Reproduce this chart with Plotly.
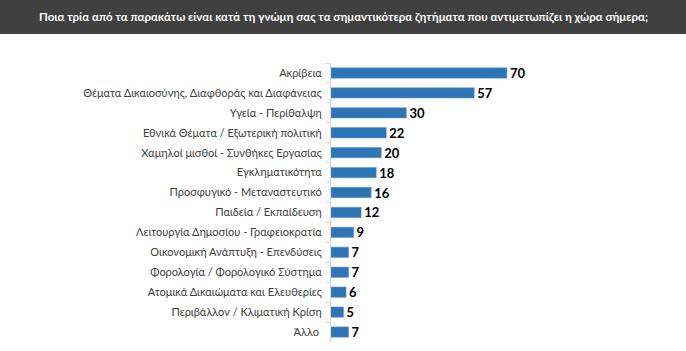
import plotly.graph_objects as go

categories = ["Ακρίβεια", "Θέματα Δικαιοσύνης, Διαφθοράς και Διαφάνειας", "Υγεία - Περίθαλψη",
              "Εθνικά Θέματα / Εξωτερική πολιτική", "Χαμηλοί μισθοί - Συνθήκες Εργασίας",
              "Εγκληματικότητα", "Προσφυγικό - Μεταναστευτικό", "Παιδεία / Εκπαίδευση",
              "Λειτουργία Δημοσίου - Γραφειοκρατία", "Οικονομική Ανάπτυξη - Επενδύσεις",
              "Φορολογία / Φορολογικό Σύστημα", "Ατομικά Δικαιώματα και Ελευθερίες",
              "Περιβάλλον / Κλιματική Κρίση", "Άλλο "]
values = [70, 57, 30, 22, 20, 18, 16, 12, 9, 7, 7, 6, 5, 7]
title = "Ποια τρία από τα παρακάτω είναι κατά τη γνώμη σας τα σημαντικότερα ζητήματα που αντιμετωπίζει η χώρα σήμερα;"

W, H = 686, 351
ml, mr, mt, mb = 331, 154, 63, 9
pw = W - ml - mr
ph = H - mt - mb

fig = go.Figure(go.Bar(
    y=categories, x=values, orientation="h",
    marker=dict(color="#2E75B6", line=dict(color="#5B9BD5", width=0.5)),
    width=0.52,
    text=[str(v) for v in values], textposition="outside", constraintext="none",
    textfont=dict(family="Lato, DejaVu Sans, sans-serif", size=13, color="#000000", weight="bold"),
    cliponaxis=False,
))

fig.update_layout(
    width=W, height=H, margin=dict(l=ml, r=mr, t=mt, b=mb),
    paper_bgcolor="white", plot_bgcolor="white", showlegend=False,
    bargap=0.48,
    xaxis=dict(range=[0, 80], visible=False),
    yaxis=dict(autorange="reversed", type="category", showline=True, linecolor="#D9D9D9", linewidth=1,
               ticks="outside", ticklen=4, tickcolor="#D9D9D9", tickson="boundaries",
               showgrid=False, ticklabelstandoff=6,
               tickfont=dict(family="Lato, DejaVu Sans, sans-serif", size=11, color="#404040")),
    shapes=[dict(type="rect", xref="paper", yref="paper",
                 x0=-ml / pw, x1=(W - ml) / pw, y0=1 + (mt - 34) / ph, y1=1 + mt / ph,
                 fillcolor="#404040", line=dict(width=0), layer="below")],
    annotations=[dict(text=title, xref="paper", yref="paper",
                      x=(W / 2 - ml) / pw, y=1 + (mt - 17) / ph, xanchor="center", yanchor="middle",
                      showarrow=False,
                      font=dict(family="Lato, DejaVu Sans, sans-serif", size=11.5, color="white", weight="bold"))],
)

fig.write_html("out.html")
